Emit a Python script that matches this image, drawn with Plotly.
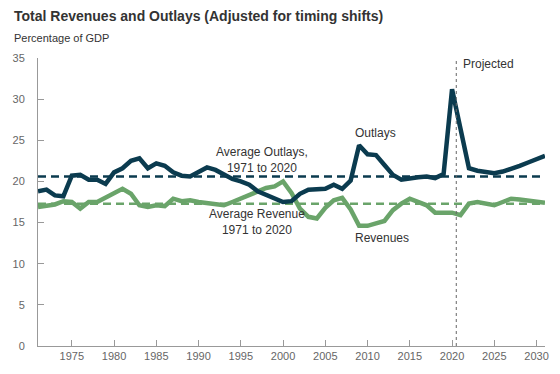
import plotly.graph_objects as go

years = list(range(1971, 2032))
outlays = [18.8, 19.0, 18.3, 18.2, 20.7, 20.8, 20.2, 20.2, 19.7, 21.1,
           21.6, 22.5, 22.8, 21.6, 22.2, 21.9, 21.1, 20.7, 20.6, 21.2,
           21.7, 21.4, 20.8, 20.3, 20.0, 19.6, 18.8, 18.4, 17.9, 17.5,
           17.6, 18.5, 19.0, 19.1, 19.1, 19.6, 19.1, 20.1, 24.4, 23.3,
           23.2, 22.0, 20.8, 20.2, 20.4, 20.5, 20.6, 20.4, 20.9, 31.2,
           26.4, 21.6, 21.3, 21.1, 21.0, 21.2, 21.5, 21.9, 22.3, 22.7, 23.1]
revenues = [16.9, 17.1, 17.2, 17.6, 17.5, 16.7, 17.5, 17.5, 18.0, 18.5,
            19.1, 18.5, 17.1, 16.9, 17.1, 17.0, 17.9, 17.6, 17.7, 17.5,
            17.4, 17.3, 17.1, 17.5, 17.9, 18.4, 18.8, 19.2, 19.4, 20.0,
            18.6, 16.7, 15.7, 15.5, 16.8, 17.7, 18.0, 16.6, 14.6, 14.6,
            14.9, 15.2, 16.5, 17.3, 17.9, 17.5, 17.1, 16.2, 16.2, 16.2,
            15.9, 17.3, 17.5, 17.3, 17.1, 17.5, 17.9, 17.8, 17.7, 17.6, 17.4]
avg_outlays = 20.6
avg_revenues = 17.3
projection_start = 2020.5
x_ticks = list(range(1975, 2031, 5))
y_ticks = list(range(0, 36, 5))

DARK = "#0b3b4f"
GREEN = "#6aa46a"
TXT = "#333333"
FONT = "Liberation Sans, Arial, sans-serif"

fig = go.Figure()
fig.add_trace(go.Scatter(x=[years[0], years[-1]], y=[avg_outlays] * 2, mode="lines",
                         line=dict(color=DARK, width=2.5, dash="8px,5px"), hoverinfo="skip"))
fig.add_trace(go.Scatter(x=[years[0], years[-1]], y=[avg_revenues] * 2, mode="lines",
                         line=dict(color=GREEN, width=2.5, dash="8px,5px"), hoverinfo="skip"))
fig.add_trace(go.Scatter(x=years, y=revenues, mode="lines",
                         line=dict(color=GREEN, width=4.5), name="Revenues"))
fig.add_trace(go.Scatter(x=years, y=outlays, mode="lines",
                         line=dict(color=DARK, width=4.5), name="Outlays"))

fig.add_shape(type="line", x0=projection_start, x1=projection_start, y0=0, y1=35,
              xref="x", yref="y", line=dict(color="#666666", width=1, dash="3px,3px"))

ann = dict(showarrow=False, font=dict(family=FONT, size=12, color=TXT))
fig.add_annotation(x=1997.5, y=22.6, text="Average Outlays,<br>1971 to 2020", **ann)
fig.add_annotation(x=1996.9, y=15.1, text="Average Revenue<br>1971 to 2020", **ann)
fig.add_annotation(x=2010.9, y=25.9, text="Outlays", **ann)
fig.add_annotation(x=2011.7, y=13.1, text="Revenues", **ann)
fig.add_annotation(x=2021.0, y=34.3, text="Projected", xanchor="left", **ann)

# Title and subtitle (paper coords; plot area spans x 38..545, y 58..346)
fig.add_annotation(xref="paper", yref="paper", x=-26 / 507, y=1 + 42 / 288,
                   text="<b>Total Revenues and Outlays (Adjusted for timing shifts)</b>",
                   showarrow=False, xanchor="left", yanchor="middle",
                   font=dict(family=FONT, size=14, color=TXT))
fig.add_annotation(xref="paper", yref="paper", x=-26 / 507, y=1 + 20 / 288,
                   text="Percentage of GDP", showarrow=False, xanchor="left", yanchor="middle",
                   font=dict(family=FONT, size=11, color=TXT))

fig.update_layout(
    width=560, height=374,
    margin=dict(l=38, r=15, t=58, b=28, autoexpand=False),
    paper_bgcolor="white", plot_bgcolor="white",
    showlegend=False,
    font=dict(family=FONT, size=11, color="#666666"),
)

fig.update_xaxes(range=[1971, 2031], tickvals=x_ticks, ticks="inside", ticklen=6,
                 tickcolor="#999999", showline=True, linecolor="#999999", linewidth=1,
                 showgrid=False, zeroline=False, tickfont=dict(size=11, color="#666666"))
fig.update_yaxes(range=[0, 35], tickvals=y_ticks, ticks="inside", ticklen=6,
                 tickcolor="#999999", showline=True, linecolor="#999999", linewidth=1,
                 showgrid=False, zeroline=False, ticklabelstandoff=10,
                 tickfont=dict(size=11, color="#666666"))

fig.write_html("out.html", config={"displayModeBar": False},
               post_script="document.body.style.margin='0';")
